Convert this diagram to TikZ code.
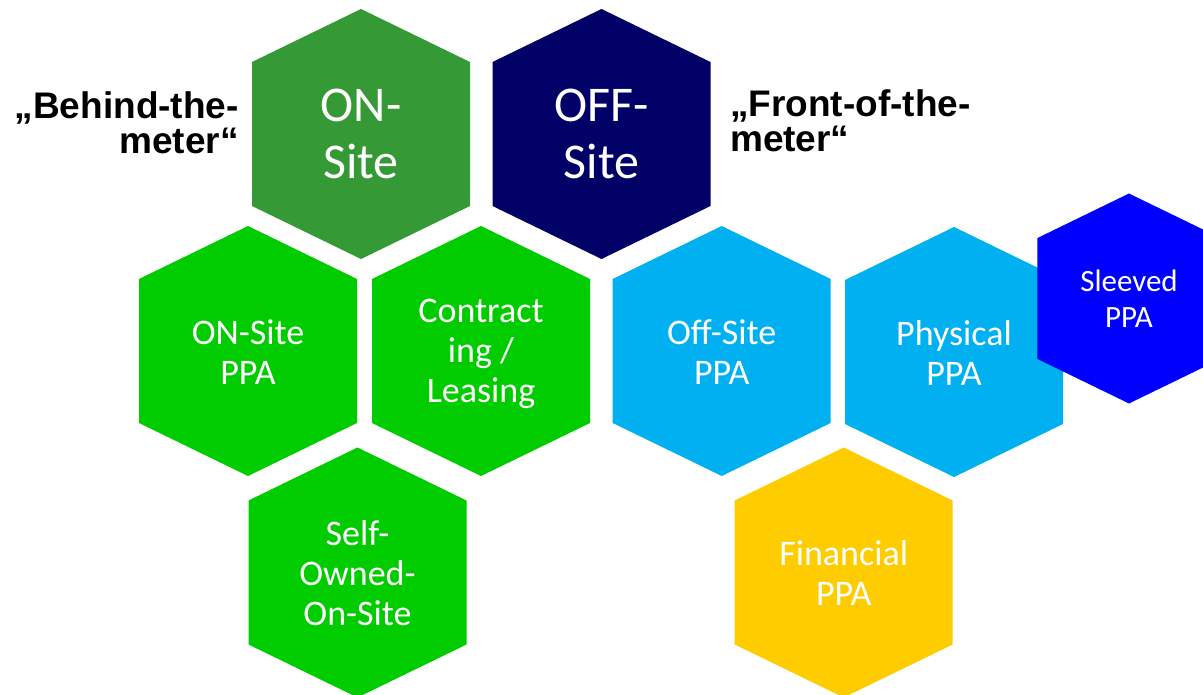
\documentclass[tikz,border=0pt]{standalone}
\usepackage{fontspec}
\setmainfont{Carlito}
\newfontfamily\labelfont{Liberation Sans}
\definecolor{onsitegreen}{HTML}{359A35}
\definecolor{offsitenavy}{HTML}{000066}
\definecolor{ppagreen}{HTML}{00CC00}
\definecolor{ppablue}{HTML}{00B0F0}
\definecolor{sleeveblue}{HTML}{0000FF}
\definecolor{finyellow}{HTML}{FFCC00}
\tikzstyle{hextext}=[text=white,align=center,inner sep=0pt,font=\fontsize{36}{40}\selectfont]
\tikzstyle{bigtext}=[hextext,font=\fontsize{50}{57}\selectfont]
\tikzstyle{smalltext}=[hextext,font=\fontsize{31}{36.5}\selectfont]
\tikzstyle{meterlabel}=[inner sep=0pt,font=\labelfont\bfseries\fontsize{37}{35}\selectfont]
\tikzset{hexa/.pic={\path[pic actions] (0,-125) -- (109,-72) -- (109,72) -- (0,125) -- (-109,72) -- (-109,-72) -- cycle;}}

\begin{document}
\begin{tikzpicture}[x=1pt,y=-1pt]
    \useasboundingbox (0,0) rectangle (1203,695);
    % top row
    \pic[fill=onsitegreen] at (361,134) {hexa};
    \pic[fill=offsitenavy] at (601.5,134) {hexa};
    \node[bigtext] (onsite) at (361,134) {ON-\\Site};
    \node[bigtext] (offsite) at (601.5,134) {OFF-\\Site};
    \node[meterlabel,align=right,anchor=east] (behind) at (239,123) {„Behind-the-\\meter“};
    \node[meterlabel,align=left,anchor=west] (front) at (730,121) {„Front-of-the-\\meter“};
    % middle row
    \pic[fill=ppagreen] at (248,351) {hexa};
    \pic[fill=ppagreen] at (481,351) {hexa};
    \pic[fill=ppablue] at (721.7,351) {hexa};
    \pic[fill=ppablue] at (954,352) {hexa};
    \pic[fill=sleeveblue,scale=0.84,preaction={draw=white,line width=10pt}] at (1129,298.5) {hexa};
    \node[hextext] (onppa) at (248,352) {ON-Site\\PPA};
    \node[hextext] (leasing) at (481,354) {Contract\\ing /\\Leasing};
    \node[hextext] (offppa) at (721.7,352) {Off-Site\\PPA};
    \node[hextext] (physical) at (954,353) {Physical\\PPA};
    \node[smalltext] (sleeved) at (1129,298.5) {Sleeved\\PPA};
    % bottom row
    \pic[fill=ppagreen] at (357.5,572.5) {hexa};
    \pic[fill=finyellow] at (843.7,572.5) {hexa};
    \node[hextext] (selfowned) at (357.5,573) {Self-\\Owned-\\On-Site};
    \node[hextext] (financial) at (843.7,573) {Financial\\PPA};
\end{tikzpicture}
\end{document}
